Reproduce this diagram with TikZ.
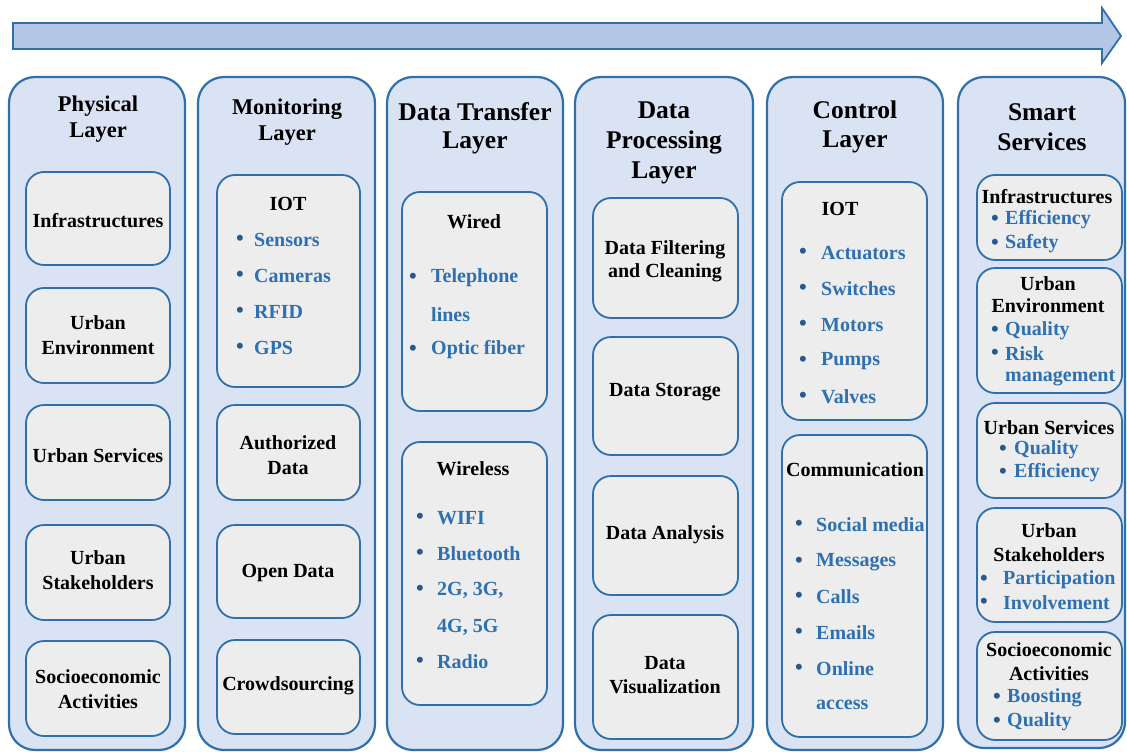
\documentclass[tikz,border=0pt]{standalone}
\usepackage{fontspec}
\setmainfont{Liberation Serif}
\definecolor{bord}{RGB}{47,111,170}
\definecolor{outfill}{RGB}{218,227,243}
\definecolor{infill}{RGB}{237,237,237}
\definecolor{bluetx}{RGB}{46,112,176}
\definecolor{bultx}{RGB}{40,90,140}
\definecolor{arrfill}{RGB}{180,199,231}
\newcommand\colbox[5]{\node[colst, anchor=north west, minimum width={#4-#2}, minimum height={#5-#3}] (#1) at (#2,#3) {};}
\newcommand\inbox[5]{\node[boxst, anchor=north west, minimum width={#4-#2}, minimum height={#5-#3}] (#1) at (#2,#3) {};}
\newcommand\tx[4]{\node[txt] (#1) at (#2,#3) {#4};}
\newcommand\ttl[4]{\node[ttlA] (#1) at (#2,#3) {#4};}
\newcommand\ttB[4]{\node[ttlB] (#1) at (#2,#3) {#4};}
\newcommand\bl[5]{\node[bulst] (#1b) at (#2,#4) {•};\node[btx] (#1) at (#3,#4) {#5};}
\begin{document}
\begin{tikzpicture}[x=1pt,y=-1pt,
  colst/.style={draw=bord, line width=2.2pt, fill=outfill, rounded corners=26pt, inner sep=0pt, outer sep=0pt},
  boxst/.style={draw=bord, line width=1.8pt, fill=infill, rounded corners=18pt, inner sep=0pt, outer sep=0pt},
  txt/.style={font=\bfseries\fontsize{20}{22}\selectfont, inner sep=0pt, align=center},
  ttlA/.style={font=\bfseries\fontsize{22.5}{25}\selectfont, inner sep=0pt},
  ttlB/.style={font=\bfseries\fontsize{25.5}{28}\selectfont, inner sep=0pt},
  bulst/.style={font=\bfseries\fontsize{22}{24}\selectfont, text=bultx, inner sep=0pt},
  btx/.style={font=\bfseries\fontsize{20}{22}\selectfont, text=bluetx, inner sep=0pt, anchor=west},
  arrst/.style={draw=bord, line width=1.8pt, fill=arrfill, line join=miter}]
\useasboundingbox[fill=white] (0,0) rectangle (1127,752);
% top arrow
\draw[arrst] (13,23) -- (1102,23) -- (1102,8) -- (1121,36) -- (1102,63) -- (1102,49) -- (13,49) -- cycle;
% columns
\colbox{c1}{9}{77}{185}{750}
\colbox{c2}{198}{77}{375}{750}
\colbox{c3}{387}{77}{563}{750}
\colbox{c4}{575}{77}{753}{750}
\colbox{c5}{767}{77}{943}{750}
\colbox{c6}{958}{77}{1125}{748}
% column 1
\ttl{t1a}{98}{106}{Physical}
\ttl{t1b}{98}{133}{Layer}
\inbox{b11}{26}{172}{170}{265}
\inbox{b12}{26}{288}{170}{383}
\inbox{b13}{26}{405}{170}{500}
\inbox{b14}{26}{525}{170}{620}
\inbox{b15}{26}{641}{170}{736}
\tx{p1}{98}{221}{Infrastructures}
\tx{p2a}{98}{323}{Urban}
\tx{p2b}{98}{348}{Environment}
\tx{p3}{98}{456}{Urban Services}
\tx{p4a}{98}{558}{Urban}
\tx{p4b}{98}{583}{Stakeholders}
\tx{p5a}{98}{677}{Socioeconomic}
\tx{p5b}{98}{702}{Activities}
% column 2
\ttl{t2a}{287}{109}{Monitoring}
\ttl{t2b}{287}{136}{Layer}
\inbox{b21}{217}{175}{360}{387}
\inbox{b22}{217}{405}{360}{500}
\inbox{b23}{217}{525}{360}{618}
\inbox{b24}{217}{640}{360}{734}
\tx{m1}{288}{204}{IOT}
\bl{m1a}{240}{254}{240}{Sensors}
\bl{m1b}{240}{254}{276}{Cameras}
\bl{m1c}{240}{254}{312}{RFID}
\bl{m1d}{240}{254}{348}{GPS}
\tx{m2a}{288}{443}{Authorized}
\tx{m2b}{288}{468}{Data}
\tx{m3}{288}{573}{Open Data}
\tx{m4}{288}{686}{Crowdsourcing}
% column 3
\ttB{t3a}{475}{112}{Data Transfer}
\ttB{t3b}{475}{143}{Layer}
\inbox{b31}{402}{192}{547}{411}
\inbox{b32}{402}{442}{547}{705}
\tx{d1}{474}{222}{Wired}
\bl{d1a}{413}{431}{278}{Telephone}
\node[btx] (d1a2) at (431,315) {lines};
\bl{d1b}{413}{431}{350}{Optic fiber}
\tx{d2}{473}{469}{Wireless}
\bl{d2a}{420}{437}{518}{WIFI}
\bl{d2b}{420}{437}{554}{Bluetooth}
\bl{d2c}{420}{437}{590}{2G, 3G,}
\node[btx] (d2c2) at (437,627) {4G, 5G};
\bl{d2d}{420}{437}{662}{Radio}
% column 4
\ttB{t4a}{664}{110}{Data}
\ttB{t4b}{664}{142}{Processing}
\ttB{t4c}{664}{173}{Layer}
\inbox{b41}{593}{198}{738}{318}
\inbox{b42}{593}{337}{738}{455}
\inbox{b43}{593}{476}{738}{595}
\inbox{b44}{593}{615}{738}{739}
\tx{e1a}{665}{250}{Data Filtering}
\tx{e1b}{665}{273}{and Cleaning}
\tx{e2}{665}{392}{Data Storage}
\tx{e3}{665}{535}{Data Analysis}
\tx{e4a}{665}{663}{Data}
\tx{e4b}{665}{687}{Visualization}
% column 5
\ttB{t5a}{855}{110}{Control}
\ttB{t5b}{855}{142}{Layer}
\inbox{b51}{782}{182}{927}{420}
\inbox{b52}{782}{435}{927}{737}
\tx{k1}{840}{209}{IOT}
\bl{k1a}{803}{821}{253}{Actuators}
\bl{k1b}{803}{821}{289}{Switches}
\bl{k1c}{803}{821}{325}{Motors}
\bl{k1d}{803}{821}{361}{Pumps}
\bl{k1e}{803}{821}{397}{Valves}
\tx{k2}{855}{470}{Communication}
\bl{k2a}{799}{816}{525}{Social media}
\bl{k2b}{799}{816}{562}{Messages}
\bl{k2c}{799}{816}{597}{Calls}
\bl{k2d}{799}{816}{633}{Emails}
\bl{k2e}{799}{816}{669}{Online}
\node[btx] (k2e2) at (816,705) {access};
% column 6
\ttB{t6a}{1042}{112}{Smart}
\ttB{t6b}{1042}{142}{Services}
\inbox{b61}{977}{175}{1122}{260}
\inbox{b62}{977}{268}{1122}{393}
\inbox{b63}{977}{403}{1122}{498}
\inbox{b64}{977}{508}{1122}{622}
\inbox{b65}{977}{632}{1122}{740}
\tx{s1}{1047}{197}{Infrastructures}
\bl{s1a}{995}{1005}{220}{Efficiency}
\bl{s1b}{995}{1005}{244}{Safety}
\tx{s2a}{1048}{284}{Urban}
\tx{s2b}{1048}{306}{Environment}
\bl{s2c}{995}{1005}{331}{Quality}
\bl{s2d}{995}{1005}{354}{Risk}
\node[btx] (s2e) at (1005,378) {management};
\tx{s3}{1049}{428}{Urban Services}
\bl{s3a}{1003}{1014}{450}{Quality}
\bl{s3b}{1003}{1014}{473}{Efficiency}
\tx{s4a}{1049}{531}{Urban}
\tx{s4b}{1049}{555}{Stakeholders}
\bl{s4c}{984}{1003}{580}{Participation}
\bl{s4d}{984}{1003}{603}{Involvement}
\tx{s5a}{1049}{650}{Socioeconomic}
\tx{s5b}{1049}{674}{Activities}
\bl{s5c}{997}{1007}{698}{Boosting}
\bl{s5d}{997}{1007}{722}{Quality}
\end{tikzpicture}
\end{document}
